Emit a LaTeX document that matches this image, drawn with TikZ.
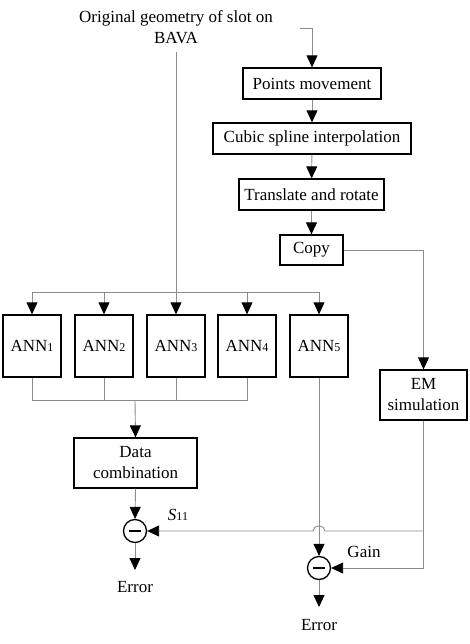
\documentclass[tikz,border=0pt]{standalone}
\usepackage{fontspec}
\setmainfont{Liberation Serif}
\usetikzlibrary{arrows.meta,positioning}
\begin{document}
\begin{tikzpicture}[x=1pt,y=-1pt,
  font=\fontsize{17}{21}\selectfont,
  box/.style={draw=black, line width=1.3pt, align=center, inner sep=0pt},
  conn/.style={draw=black!45, line width=0.9pt},
  arr/.style={conn, -{Triangle[length=12pt,width=11pt,color=black,fill=black]}},
  ann/.style={box, minimum width=58pt, minimum height=62pt},
  sumc/.style={circle, draw=black, line width=1.3pt, minimum size=23pt, inner sep=0pt},
  lbl/.style={inner sep=0pt, align=center}
]
\useasboundingbox (0,0) rectangle (469,644);
\newcommand{\sbs}[1]{{\fontsize{12}{12}\selectfont #1}}
% title
\node[lbl] (title) at (176,27) {Original geometry of slot on\\BAVA};
\coordinate (tl) at (176,52);
\coordinate (in) at (300,28);
% right chain
\node[box, minimum width=138pt, minimum height=31pt] (pm) at (312,83.5) {Points movement};
\node[box, minimum width=198pt, minimum height=31pt] (cs) at (312,138.5) {Cubic spline interpolation};
\node[box, minimum width=145pt, minimum height=31pt] (tr) at (311.5,194.5) {Translate and rotate};
\node[box, minimum width=63pt, minimum height=30pt] (cp) at (311.5,250) {Copy};
\node[box, minimum width=87pt, minimum height=50pt] (em) at (423.5,395) {EM\\simulation};
% ANNs
\node[ann] (a1) at (32,346) {ANN\sbs{1}};
\node[ann] (a2) at (104,346) {ANN\sbs{2}};
\node[ann] (a3) at (176,346) {ANN\sbs{3}};
\node[ann] (a4) at (247,346) {ANN\sbs{4}};
\node[ann] (a5) at (319,346) {ANN\sbs{5}};
\node[box, minimum width=123pt, minimum height=50pt] (dc) at (135.5,463) {Data\\combination};
% summing junctions
\node[sumc] (c1) at (135,531) {};
\node[sumc] (c2) at (319,568) {};
\draw[line width=1.3pt] ([xshift=-6pt]c1.center) -- ([xshift=6pt]c1.center);
\draw[line width=1.3pt] ([xshift=-6pt]c2.center) -- ([xshift=6pt]c2.center);
\node[lbl] (s11) at (178,515) {\textit{S}\sbs{11}};
\node[lbl] (gain) at (364,552) {Gain};
\coordinate (e1) at (135,570);
\coordinate (e2) at (319,607);
\node[lbl] (err1) at (135,587) {Error};
\node[lbl] (err2) at (319,625) {Error};
% bus coordinates
\coordinate (bus1) at (32,292);
\coordinate (bus5) at (319,292);
\coordinate (bot) at (135,400);
% connectors: right chain
\draw[arr] (in) -| (pm.north);
\draw[arr] (pm) -- (cs);
\draw[arr] (cs) -- (tr);
\draw[arr] (tr) -- (cp);
\draw[arr] (cp.east) -| (em.north);
% title to ANNs
\draw[arr] (tl) -- (a3.north);
\draw[conn] (bus1) -- (bus5);
\draw[arr] (bus1) -- (a1.north);
\draw[arr] (a2.north |- bus1) -- (a2.north);
\draw[arr] (a4.north |- bus1) -- (a4.north);
\draw[arr] (bus5) -- (a5.north);
% ANN outputs
\draw[conn] (a1.south) |- (a4.south |- bot) -- (a4.south);
\draw[conn] (a2.south) -- (a2.south |- bot);
\draw[conn] (a3.south) -- (a3.south |- bot);
\draw[arr] (bot) -- (dc.north);
\draw[arr] (dc.south) -- (c1.north);
\draw[arr] (a5.south) -- (c2.north);
% EM outputs
\draw[arr] (em.south) |- (c2.east);
\draw[arr] (em.south |- c1) -- (325,531) arc[start angle=0, end angle=-180, x radius=6, y radius=5] -- (c1.east);
% errors
\draw[arr] (c1.south) -- (e1);
\draw[arr] (c2.south) -- (e2);
\end{tikzpicture}
\end{document}
